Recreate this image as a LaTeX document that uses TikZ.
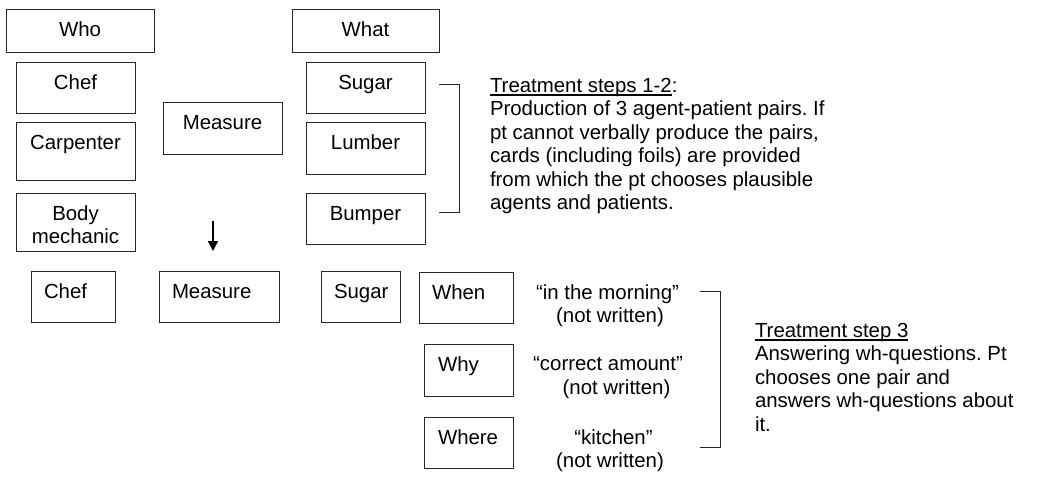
\documentclass[tikz,border=0pt]{standalone}
\usepackage{fontspec}
\setmainfont{Liberation Sans}
\usetikzlibrary{arrows.meta,calc}
\newcommand\myul[1]{\setbox0\hbox{#1}\rlap{\rule[-3.2pt]{\wd0}{1.2pt}}\box0}
\frenchspacing
\begin{document}
\begin{tikzpicture}[x=1pt,y=-1pt,
  box/.style={draw=black!85, line width=0.9pt, inner sep=0pt, outer sep=0pt, anchor=north west},
  txt/.style={font=\fontsize{20.4}{23.5}\selectfont, inner sep=0pt, outer sep=0pt},
  ct/.style={txt, anchor=base, yshift=-27.3pt},
  lt/.style={txt, anchor=base west, xshift=13pt, yshift=-27.3pt},
  lt2/.style={txt, anchor=base west, xshift=14pt, yshift=-27.3pt},
  brk/.style={draw=black!85, line width=0.9pt},
  arr/.style={line width=1.6pt, -{Triangle[width=10pt,length=10pt]}}]
\useasboundingbox (0,0) rectangle (1050,477);

% top row headers
\node[box, minimum width=148pt, minimum height=43pt, label={[ct]north:Who}] (who) at (6,9) {};
\node[box, minimum width=147pt, minimum height=43pt, label={[ct]north:What}] (what) at (292,9) {};

% agents
\node[box, minimum width=119pt, minimum height=51pt, label={[ct]north:Chef}] (chef) at (16,62) {};
\node[box, minimum width=119pt, minimum height=58pt, label={[ct]north:Carpenter}] (carp) at (16,122) {};
\node[box, minimum width=119pt, minimum height=58pt,
  label={[txt, align=center, anchor=center, yshift=-31.6pt]north:Body\\mechanic}] (body) at (16,193) {};

% verb
\node[box, minimum width=119pt, minimum height=52pt, label={[ct]north:Measure}] (meas) at (163,102) {};

% patients
\node[box, minimum width=119pt, minimum height=51pt, label={[ct]north:Sugar}] (sugar) at (306,62) {};
\node[box, minimum width=119pt, minimum height=52pt, label={[ct]north:Lumber}] (lumber) at (306,122) {};
\node[box, minimum width=119pt, minimum height=51pt, label={[ct]north:Bumper}] (bumper) at (306,193) {};

% arrow
\coordinate (ar1) at (213,221);
\coordinate (ar2) at (213,251);
\draw[arr] (ar1) -- (ar2);

% bottom row
\node[box, minimum width=84pt, minimum height=51pt, label={[lt]north west:Chef}] (chef2) at (31,271) {};
\node[box, minimum width=120pt, minimum height=51pt, label={[lt]north west:Measure}] (meas2) at (159,271) {};
\node[box, minimum width=79pt, minimum height=51pt, label={[lt]north west:Sugar}] (sugar2) at (321,271) {};
\node[box, minimum width=94pt, minimum height=51pt, label={[lt]north west:When}] (when) at (419,272) {};
\node[box, minimum width=89pt, minimum height=52pt, label={[lt2]north west:Why}] (why) at (424,344) {};
\node[box, minimum width=89pt, minimum height=51pt, label={[lt2]north west:Where}] (where) at (424,417) {};

% answers
\node[txt, anchor=base] (q1a) at (607.5,299.3) {“in the morning”};
\node[txt, anchor=base] (q1b) at (610,322.3) {(not written)};
\node[txt, anchor=base] (q2a) at (608,370.3) {“correct amount”};
\node[txt, anchor=base] (q2b) at (616.5,394.3) {(not written)};
\node[txt, anchor=base] (q3a) at (613.5,444.3) {“kitchen”};
\node[txt, anchor=base] (q3b) at (610,467.3) {(not written)};

% brackets
\coordinate (bra) at (439,84);
\coordinate (brb) at (439,212);
\draw[brk] (bra) -- ++(20,0) |- (brb);
\coordinate (brc) at (700,291);
\coordinate (brd) at (700,447);
\draw[brk] (brc) -- ++(20,0) |- (brd);

% descriptions
\node[txt, anchor=north west, align=left] (t1) at (490,76.3)
  {\rule{0pt}{16pt}\myul{Treatment steps 1-2}:\\
   Production of 3 agent-patient pairs. If\\
   pt cannot verbally produce the pairs,\\
   cards (including foils) are provided\\
   from which the pt chooses plausible\\
   agents and patients.};
\node[txt, anchor=north west, align=left] (t2) at (755,321.3)
  {\rule{0pt}{16pt}\myul{Treatment step 3}\\
   Answering wh-questions. Pt\\
   chooses one pair and\\
   answers wh-questions about\\
   it.};
\end{tikzpicture}
\end{document}
